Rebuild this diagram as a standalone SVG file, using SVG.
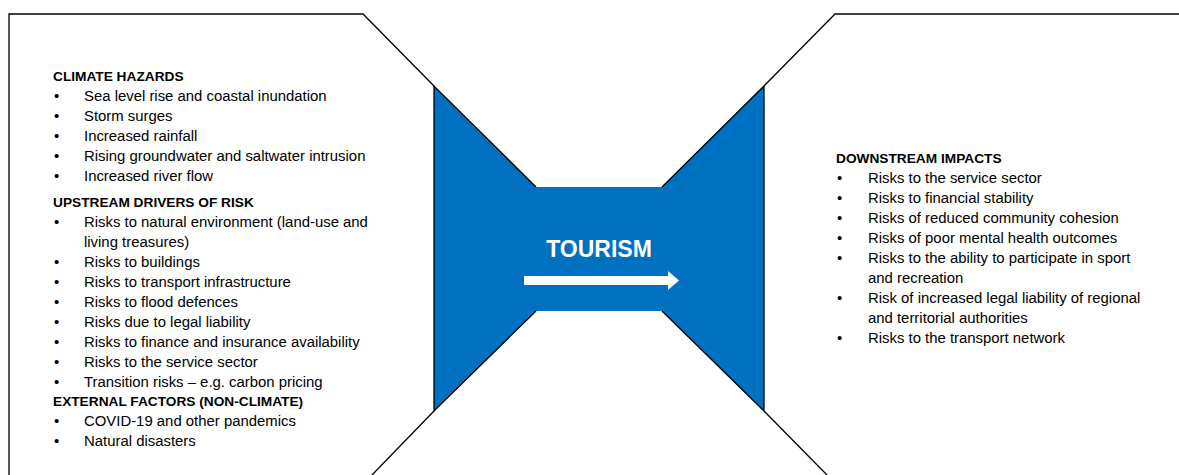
<svg xmlns="http://www.w3.org/2000/svg" width="1179" height="475" viewBox="0 0 1179 475">
<style>
.t{font-family:"Liberation Sans",Arial,sans-serif;font-size:14.9px;fill:#000}
.h{font-family:"Liberation Sans",Arial,sans-serif;font-size:13.7px;font-weight:bold;fill:#000}
.ln{fill:none;stroke:#000;stroke-width:1.3}
</style>
<rect width="1179" height="475" fill="#fff"/>
<g id="connectors">
<path class="ln" d="M9,475 L9,14 L363,14 L434,86"/>
<path class="ln" d="M372,475 L434,411"/>
<path class="ln" d="M1179,14 L835,14 L764,86"/>
<path class="ln" d="M827,475 L764,411"/>
</g>
<g id="tourism">
<polygon points="434,86 536,187 662,187 764,86 764,411 662,311 536,311 434,411" fill="#0070C0"/>
<path class="ln" d="M536,187 L434,86 L434,411 L536,311"/>
<path class="ln" d="M662,187 L764,86 L764,411 L662,311"/>
<text x="599" y="257" text-anchor="middle" font-family="'Liberation Sans',Arial,sans-serif" font-size="23" font-weight="bold" fill="#fff">TOURISM</text>
<polygon points="524,276 668,276 668,271 679,280.5 668,290 668,285 524,285" fill="#fff"/>
</g>
<g id="upstream">
<text class="h" x="53" y="81">CLIMATE HAZARDS</text>
<g class="t">
<text x="54" y="101">•</text><text x="84" y="101">Sea level rise and coastal inundation</text>
<text x="54" y="121">•</text><text x="84" y="121">Storm surges</text>
<text x="54" y="141">•</text><text x="84" y="141">Increased rainfall</text>
<text x="54" y="161">•</text><text x="84" y="161">Rising groundwater and saltwater intrusion</text>
<text x="54" y="181">•</text><text x="84" y="181">Increased river flow</text>
</g>
<text class="h" x="53" y="207">UPSTREAM DRIVERS OF RISK</text>
<g class="t">
<text x="54" y="227">•</text><text x="84" y="227">Risks to natural environment (land-use and</text>
<text x="84" y="247">living treasures)</text>
<text x="54" y="267">•</text><text x="84" y="267">Risks to buildings</text>
<text x="54" y="287">•</text><text x="84" y="287">Risks to transport infrastructure</text>
<text x="54" y="307">•</text><text x="84" y="307">Risks to flood defences</text>
<text x="54" y="327">•</text><text x="84" y="327">Risks due to legal liability</text>
<text x="54" y="347">•</text><text x="84" y="347">Risks to finance and insurance availability</text>
<text x="54" y="367">•</text><text x="84" y="367">Risks to the service sector</text>
<text x="54" y="387">•</text><text x="84" y="387">Transition risks – e.g. carbon pricing</text>
</g>
<text class="h" x="53" y="406">EXTERNAL FACTORS (NON-CLIMATE)</text>
<g class="t">
<text x="54" y="426">•</text><text x="84" y="426">COVID-19 and other pandemics</text>
<text x="54" y="446">•</text><text x="84" y="446">Natural disasters</text>
</g>
</g>
<g id="downstream">
<text class="h" x="836" y="163">DOWNSTREAM IMPACTS</text>
<g class="t">
<text x="837" y="183">•</text><text x="868" y="183">Risks to the service sector</text>
<text x="837" y="203">•</text><text x="868" y="203">Risks to financial stability</text>
<text x="837" y="223">•</text><text x="868" y="223">Risks of reduced community cohesion</text>
<text x="837" y="243">•</text><text x="868" y="243">Risks of poor mental health outcomes</text>
<text x="837" y="263">•</text><text x="868" y="263">Risks to the ability to participate in sport</text>
<text x="868" y="283">and recreation</text>
<text x="837" y="303">•</text><text x="868" y="303">Risk of increased legal liability of regional</text>
<text x="868" y="323">and territorial authorities</text>
<text x="837" y="343">•</text><text x="868" y="343">Risks to the transport network</text>
</g>
</g>
</svg>
